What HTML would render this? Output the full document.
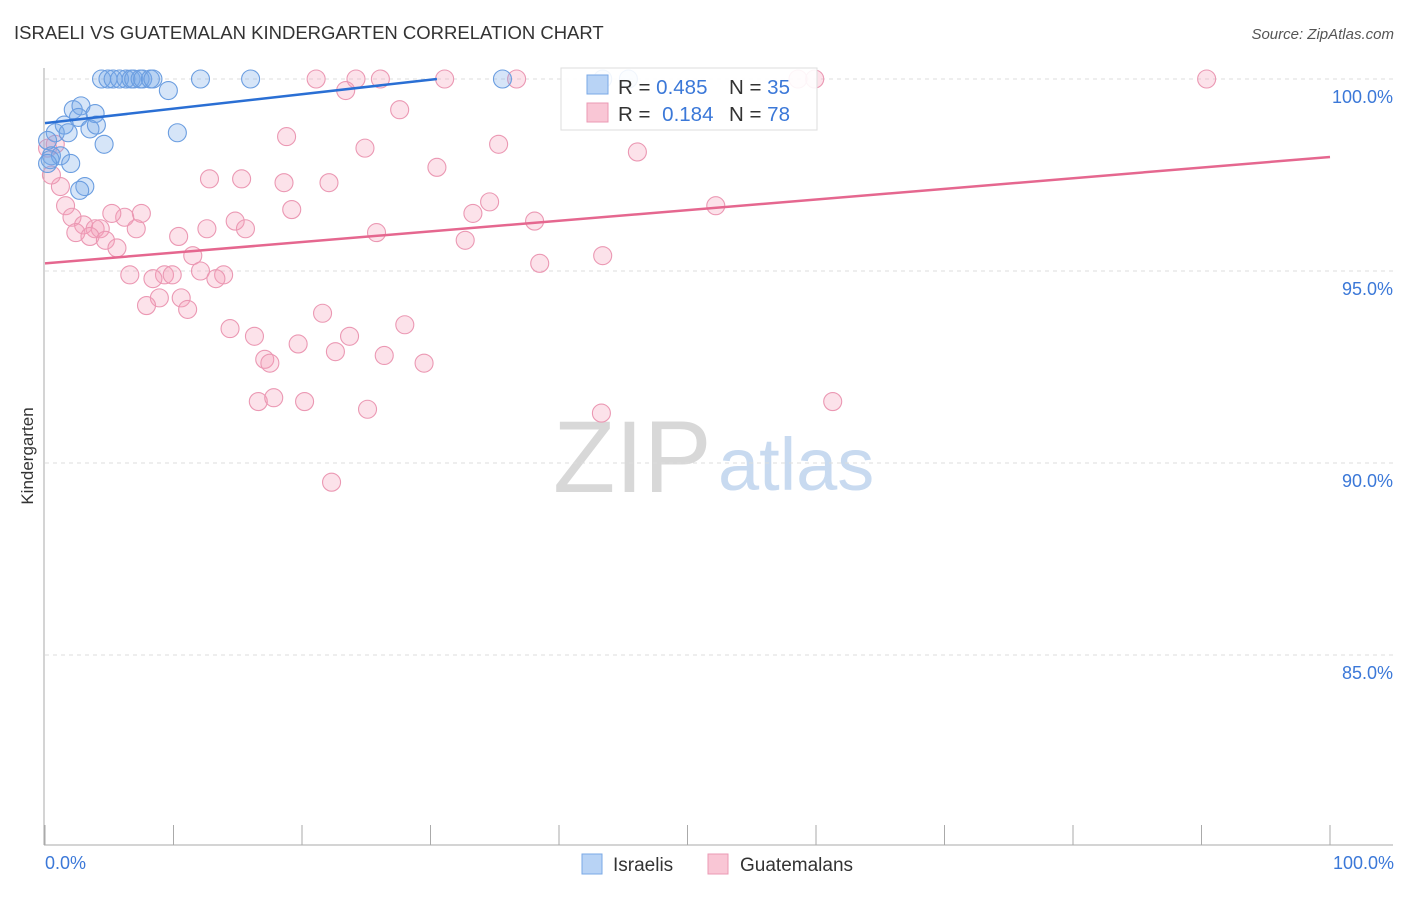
<!DOCTYPE html>
<html><head><meta charset="utf-8"><style>
body{margin:0;background:#fff;font-family:"Liberation Sans",sans-serif;}
svg text{font-family:"Liberation Sans",sans-serif;}
</style></head><body>
<svg id="c" width="1406" height="892" xmlns="http://www.w3.org/2000/svg">
<text x="14" y="39" font-size="18.5" fill="#333">ISRAELI VS GUATEMALAN KINDERGARTEN CORRELATION CHART</text>
<text x="1394" y="39" font-size="15" fill="#555" text-anchor="end" font-style="italic">Source: ZipAtlas.com</text>
<text x="553" y="492" font-size="102" fill="#d8d8d8" font-family="Liberation Serif,serif">ZIP</text>
<text x="718" y="490" font-size="74" fill="#c8daf0">atlas</text>
<g id="grid"></g>
<g id="marks"></g>
<text transform="translate(33,456) rotate(-90)" font-size="17" fill="#333" text-anchor="middle">Kindergarten</text>
<text x="45" y="869" font-size="18" fill="#3b78d8">0.0%</text>
<text x="1394" y="869" font-size="18" fill="#3b78d8" text-anchor="end">100.0%</text>
<g>
<rect x="582" y="854" width="20" height="20" fill="#b8d3f5" stroke="#7aa8e6"/>
<text x="613" y="871" font-size="19" fill="#333">Israelis</text>
<rect x="708" y="854" width="20" height="20" fill="#f9c6d5" stroke="#eb9ab4"/>
<text x="740" y="871" font-size="19" fill="#333">Guatemalans</text>
</g>
<g>
<rect x="561" y="68" width="256" height="62" fill="#fff" fill-opacity="0.9" stroke="#ddd"/>
<rect x="587" y="75" width="21" height="19" fill="#b8d3f5" stroke="#7aa8e6"/>
<rect x="587" y="103" width="21" height="19" fill="#f9c6d5" stroke="#eb9ab4"/>
<text x="618" y="94" font-size="20.5" fill="#333">R = <tspan fill="#3b78d8">0.485</tspan></text>
<text x="729" y="94" font-size="20.5" fill="#333">N = <tspan fill="#3b78d8">35</tspan></text>
<text x="618" y="121" font-size="20.5" fill="#333">R = <tspan fill="#3b78d8" dx="6">0.184</tspan></text>
<text x="729" y="121" font-size="20.5" fill="#333">N = <tspan fill="#3b78d8">78</tspan></text>
</g>
</svg>
<script>
const yTicks=[100,95,90,85];
const yTickLabels=["100.0%","95.0%","90.0%","85.0%"];
const xTicks=[0,10,20,30,40,50,60,70,80,90,100];
const israeliX=[4.4,4.9,5.3,5.8,6.3,6.7,6.9,7.4,7.6,8.2,8.4,9.6,12.1,16.0,35.6,43.4,45.4,2.2,2.8,3.9,2.6,1.5,0.8,1.8,3.5,4.0,4.6,10.3,0.2,0.5,1.2,2.0,3.1,2.7,0.4,0.2];
const israeliY=[100,100,100,100,100,100,100,100,100,100,100,99.7,100,100,100,100,100,99.2,99.3,99.1,99.0,98.8,98.6,98.6,98.7,98.8,98.3,98.6,98.4,98.0,98.0,97.8,97.2,97.1,97.9,97.8];
const guatX=[21.1,24.2,26.1,31.1,36.7,58.6,59.9,90.4,23.4,27.6,18.8,24.9,35.3,46.1,30.5,12.8,15.3,18.6,22.1,1.2,1.6,34.6,52.2,19.2,33.3,7.5,6.2,5.2,2.1,38.1,14.8,12.6,15.6,25.8,3.0,3.9,4.3,7.1,2.4,3.5,4.7,10.4,5.6,32.7,11.5,43.4,38.5,12.1,6.6,9.3,9.9,13.9,13.3,8.4,8.9,10.6,7.9,11.1,14.4,21.6,28.0,16.3,23.7,19.7,22.6,26.4,17.1,17.5,29.5,16.6,17.8,20.2,25.1,43.3,61.3,22.3,0.5,0.2,0.8];
const guatY=[100,100,100,100,100,100,100,100,99.7,99.2,98.5,98.2,98.3,98.1,97.7,97.4,97.4,97.3,97.3,97.2,96.7,96.8,96.7,96.6,96.5,96.5,96.4,96.5,96.4,96.3,96.3,96.1,96.1,96.0,96.2,96.1,96.1,96.1,96.0,95.9,95.8,95.9,95.6,95.8,95.4,95.4,95.2,95.0,94.9,94.9,94.9,94.9,94.8,94.8,94.3,94.3,94.1,94.0,93.5,93.9,93.6,93.3,93.3,93.1,92.9,92.8,92.7,92.6,92.6,91.6,91.7,91.6,91.4,91.3,91.6,89.5,97.5,98.2,98.3];
const israeliTrendX=[0,30.5];
const israeliTrendY=[98.85,100];
const guatTrendX=[0,100];
const guatTrendY=[95.2,97.97];

const NS="http://www.w3.org/2000/svg";
const xs=v=>45+v*12.85;
const ys=v=>79+(100-v)*38.4;
function mk(tag,attrs,parent){const e=document.createElementNS(NS,tag);for(const k in attrs)e.setAttribute(k,attrs[k]);parent.appendChild(e);return e;}
const grid=document.getElementById('grid'),marks=document.getElementById('marks');
yTicks.forEach((t,i)=>{
  const l=mk('line',{x1:45,x2:1393,y1:ys(t),y2:ys(t),stroke:'#ddd','stroke-dasharray':'4,4'},grid);
  
  
  const tx=mk('text',{x:1393,y:ys(t)+24,'font-size':18,fill:'#3b78d8','text-anchor':'end'},grid);
  tx.textContent=yTickLabels[i];
  
  
});
const ax=mk('line',{x1:44,x2:44,y1:68,y2:845,stroke:'#aaa'},grid);


const bx=mk('line',{x1:44,x2:1393,y1:845,y2:845,stroke:'#aaa'},grid);


xTicks.forEach(t=>{
  const l=mk('line',{x1:xs(t),x2:xs(t),y1:825,y2:845,stroke:'#aaa'},grid);
  
  
});
function dots(X,Y,fill,stroke,name){
  X.forEach((x,i)=>{
    const c=mk('circle',{cx:xs(x),cy:ys(Y[i]),r:9,fill:fill,stroke:stroke,'stroke-width':1.1},marks);
    
    
  });
}
dots(guatX,guatY,'rgba(244,160,186,0.3)','#eb98b3','guatemalan-point');
dots(israeliX,israeliY,'rgba(120,170,232,0.3)','#6a9de0','israeli-point');
const t1=mk('line',{x1:xs(israeliTrendX[0]),y1:ys(israeliTrendY[0]),x2:xs(israeliTrendX[1]),y2:ys(israeliTrendY[1]),stroke:'#2a6fd4','stroke-width':2.5},marks);


const t2=mk('line',{x1:xs(guatTrendX[0]),y1:ys(guatTrendY[0]),x2:xs(guatTrendX[1]),y2:ys(guatTrendY[1]),stroke:'#e5678f','stroke-width':2.5},marks);


</script>
</body></html>
